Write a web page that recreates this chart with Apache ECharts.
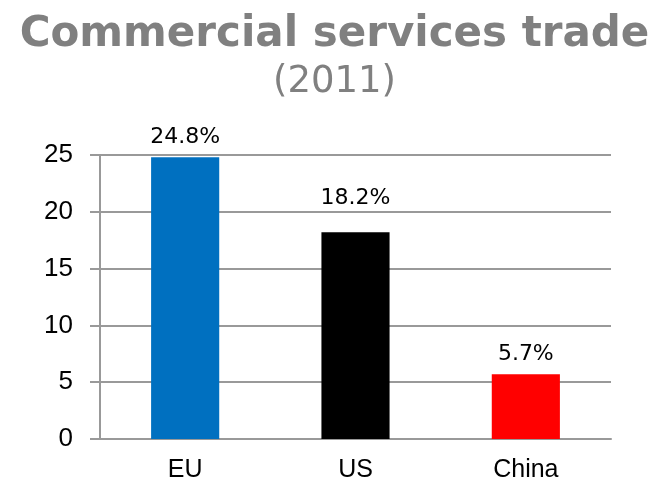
<!DOCTYPE html>
<html><head><meta charset="utf-8">
<script src="https://cdn.jsdelivr.net/npm/echarts@6/dist/echarts.min.js"></script>
<style>html,body{margin:0;padding:0;background:#fff}#c{width:669px;height:484px}</style>
</head><body><div id="c"></div>
<script>
const categories = ["EU", "US", "China"];
const values = [24.8, 18.2, 5.7];
const barColors = ["#0070C0", "#000000", "#FF0000"];
const yTicks = [0, 5, 10, 15, 20, 25];

const chart = echarts.init(document.getElementById('c'), null, {renderer: 'canvas'});
chart.setOption({
  animation: false,
  title: {
    text: 'Commercial services trade',
    subtext: '(2011)',
    left: 'center',
    top: 9,
    itemGap: 8,
    textStyle: {fontFamily: 'DejaVu Sans', fontWeight: 'bold', fontSize: 42, color: '#808080'},
    subtextStyle: {fontFamily: 'DejaVu Sans', fontWeight: 'normal', fontSize: 37, color: '#808080'}
  },
  grid: {left: 100, right: 58, top: 155, bottom: 45},
  xAxis: {
    type: 'category',
    data: categories,
    axisLine: {show: true, lineStyle: {color: '#999', width: 2}},
    axisTick: {show: false},
    axisLabel: {fontFamily: 'Liberation Sans', fontSize: 25, color: '#000', margin: 19}
  },
  yAxis: {
    type: 'value',
    min: yTicks[0], max: yTicks[yTicks.length - 1], interval: 5,
    axisLine: {show: true, lineStyle: {color: '#999', width: 2}},
    axisTick: {show: true, length: 10, lineStyle: {color: '#999', width: 2}},
    splitLine: {lineStyle: {color: '#999', width: 2}},
    axisLabel: {fontFamily: 'Liberation Sans', fontSize: 26, color: '#000', margin: 27}
  },
  series: [{
    type: 'bar',
    barWidth: '40%',
    data: values.map((v, i) => ({
      value: v,
      itemStyle: {color: barColors[i]},
      label: {distance: i === 1 ? 23 : 9}
    })),
    label: {
      show: true, position: 'top', distance: 9,
      fontFamily: 'DejaVu Sans', fontSize: 22, color: '#000',
      formatter: p => p.value.toFixed(1) + '%'
    }
  }]
});
</script></body></html>
